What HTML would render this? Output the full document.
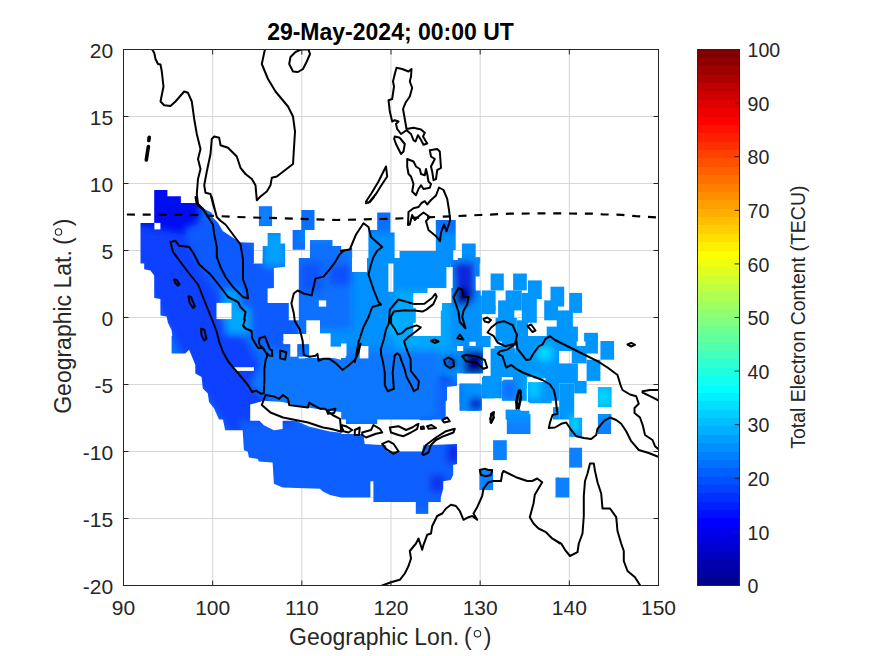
<!DOCTYPE html><html><head><meta charset="utf-8"><style>html,body{margin:0;padding:0;background:#fff;width:875px;height:656px;overflow:hidden;position:relative}</style></head><body><svg width="875" height="656" viewBox="0 0 875 656" style="position:absolute;left:0;top:0">
<defs><clipPath id="ax"><rect x="123.5" y="49.5" width="535.0" height="536.0"/></clipPath></defs>
<path d="M212.66666666666669 49.5V585.5M301.83333333333337 49.5V585.5M391.0 49.5V585.5M480.1666666666667 49.5V585.5M569.3333333333333 49.5V585.5M123.5 518.5H658.5M123.5 451.5H658.5M123.5 384.5H658.5M123.5 317.5H658.5M123.5 250.5H658.5M123.5 183.5H658.5M123.5 116.5H658.5" stroke="#d6d6d6" stroke-width="1" fill="none"/>
<defs><filter id="cb" x="-10%" y="-10%" width="120%" height="120%"><feGaussianBlur stdDeviation="3.5"/></filter><mask id="dm" maskUnits="userSpaceOnUse" x="0" y="0" width="875" height="656"><path d="M154.2 190.0 L167.4 190.0 L167.4 196.2 L180.9 196.2 L180.9 202.9 L197.8 202.9 L205.3 209.4 L211.5 212.4 L212.8 217.4 L217.8 222.4 L222.8 231.1 L232.7 237.4 L240.2 242.3 L253.9 242.8 L253.9 263.5 L140.5 263.5 L140.5 222.9 L154.2 222.9Z" fill="#fff"/><path d="M258.9 206.2 L272.1 206.2 L272.1 226.1 L258.9 226.1Z" fill="#fff"/><path d="M301.3 209.9 L314.5 209.9 L314.5 229.9 L305.0 229.9 L305.0 249.8 L292.6 249.8 L292.6 229.9 L301.3 229.9Z" fill="#fff"/><path d="M267.6 232.9 L280.6 232.9 L280.6 243.6 L285.1 243.6 L285.1 263.5 L262.7 263.5 L262.7 246.1 L267.6 246.1Z" fill="#fff"/><path d="M310.0 239.9 L332.5 239.9 L332.5 246.1 L341.2 246.1 L341.2 263.5 L310.0 263.5Z" fill="#fff"/><path d="M341.0 249.8 L352.2 249.8 L352.2 263.5 L341.0 263.5Z" fill="#fff"/><path d="M377.2 212.4 L390.4 212.4 L390.4 232.4 L394.6 232.4 L394.6 263.5 L368.4 263.5 L368.4 229.9 L377.2 229.9Z" fill="#fff"/><path d="M435.8 219.9 L455.7 219.9 L455.7 263.5 L399.6 263.5 L399.6 251.1 L435.8 251.1Z" fill="#fff"/><path d="M461.9 243.6 L475.7 243.6 L475.7 257.3 L480.2 257.3 L480.2 263.5 L461.9 263.5Z" fill="#fff"/><path d="M144.2 258.0 L252.7 258.0 L252.7 263.5 L262.7 263.5 L262.7 258.0 L285.1 258.0 L285.1 266.7 L273.9 268.0 L273.9 287.9 L267.6 288.4 L267.6 302.9 L288.8 302.9 L288.8 320.3 L298.8 320.3 L298.8 341.5 L172.9 341.5 L171.6 330.3 L167.9 322.8 L166.6 316.6 L160.4 315.4 L160.4 299.1 L154.2 297.9 L154.2 275.5 L150.4 270.5 L144.2 269.2Z" fill="#fff"/><path d="M298.8 258.0 L341.2 258.0 L341.2 341.5 L298.8 341.5Z" fill="#fff"/><path d="M341.0 258.0 L352.2 258.0 L352.2 264.2 L365.9 264.2 L365.9 258.0 L388.4 258.0 L388.4 291.7 L393.4 291.7 L393.4 258.0 L450.7 258.0 L450.7 292.9 L413.3 292.9 L413.3 341.5 L341.0 341.5Z" fill="#fff"/><path d="M408.3 307.9 L415.8 307.9 L415.8 322.8 L408.3 322.8Z" fill="#fff"/><path d="M450.7 258.0 L475.7 258.0 L475.7 290.4 L480.7 290.4 L480.7 341.5 L440.8 341.5 L440.8 310.4 L450.7 310.4Z" fill="#fff"/><path d="M490.6 273.5 L503.8 273.5 L503.8 290.4 L490.6 290.4Z" fill="#fff"/><path d="M513.1 273.5 L526.8 273.5 L526.8 290.4 L513.1 290.4Z" fill="#fff"/><path d="M528.0 280.4 L541.8 280.4 L541.8 299.1 L528.0 299.1Z" fill="#fff"/><path d="M481.9 290.4 L495.6 290.4 L495.6 310.4 L481.9 310.4Z" fill="#fff"/><path d="M505.6 290.4 L521.8 290.4 L521.8 310.4 L505.6 310.4Z" fill="#fff"/><path d="M521.8 292.9 L536.8 292.9 L536.8 322.8 L521.8 322.8Z" fill="#fff"/><path d="M550.5 286.7 L564.2 286.7 L564.2 306.6 L550.5 306.6Z" fill="#fff"/><path d="M544.2 300.4 L558.0 300.4 L558.0 320.3 L544.2 320.3Z" fill="#fff"/><path d="M569.2 292.9 L582.1 292.9 L582.1 312.9 L569.2 312.9Z" fill="#fff"/><path d="M556.7 310.4 L572.9 310.4 L572.9 327.8 L556.7 327.8Z" fill="#fff"/><path d="M498.1 300.4 L514.3 300.4 L514.3 319.1 L498.1 319.1Z" fill="#fff"/><path d="M481.9 305.4 L495.6 305.4 L495.6 314.1 L481.9 314.1Z" fill="#fff"/><path d="M495.6 317.9 L516.8 317.9 L516.8 341.5 L495.6 341.5Z" fill="#fff"/><path d="M516.8 320.3 L528.0 320.3 L528.0 341.5 L516.8 341.5Z" fill="#fff"/><path d="M546.7 326.6 L577.9 326.6 L577.9 341.5 L546.7 341.5Z" fill="#fff"/><path d="M584.1 332.8 L597.9 332.8 L597.9 341.5 L584.1 341.5Z" fill="#fff"/><path d="M442.0 295.4 L481.9 295.4 L481.9 341.5 L442.0 341.5Z" fill="#fff"/><path d="M171.6 336.0 L282.6 336.0 L282.6 342.2 L297.6 343.5 L298.8 358.4 L302.6 358.4 L312.5 357.2 L330.0 357.2 L341.2 359.7 L341.2 419.5 L219.0 419.5 L214.0 408.3 L209.0 402.1 L207.8 393.4 L202.8 388.4 L201.6 377.1 L195.3 373.4 L195.3 364.7 L189.1 349.7 L185.3 353.5 L171.6 353.5Z" fill="#fff"/><path d="M330.0 336.0 L341.2 336.0 L341.2 347.2 L330.0 347.2Z" fill="#fff"/><path d="M341.0 336.0 L455.7 336.0 L455.7 385.9 L445.7 387.1 L445.7 419.5 L341.0 419.5Z" fill="#fff"/><path d="M455.7 351.0 L480.7 351.0 L480.7 373.4 L455.7 373.4Z" fill="#fff"/><path d="M475.7 336.0 L490.6 336.0 L490.6 347.2 L475.7 347.2Z" fill="#fff"/><path d="M490.6 348.5 L515.6 348.5 L515.6 377.1 L490.6 377.1Z" fill="#fff"/><path d="M515.6 336.0 L559.2 336.0 L559.2 377.1 L515.6 377.1Z" fill="#fff"/><path d="M483.1 375.9 L501.8 375.9 L501.8 398.3 L483.1 398.3Z" fill="#fff"/><path d="M503.1 379.6 L515.6 379.6 L515.6 398.3 L503.1 398.3Z" fill="#fff"/><path d="M513.1 373.4 L526.8 373.4 L526.8 388.4 L513.1 388.4Z" fill="#fff"/><path d="M528.0 382.1 L544.2 382.1 L544.2 402.1 L528.0 402.1Z" fill="#fff"/><path d="M545.5 377.1 L559.2 377.1 L559.2 400.8 L545.5 400.8Z" fill="#fff"/><path d="M459.5 383.4 L480.7 383.4 L480.7 403.3 L459.5 403.3Z" fill="#fff"/><path d="M466.9 395.9 L479.4 395.9 L479.4 410.8 L466.9 410.8Z" fill="#fff"/><path d="M505.6 409.6 L520.6 409.6 L520.6 419.5 L505.6 419.5Z" fill="#fff"/><path d="M553.0 407.1 L559.2 407.1 L559.2 419.5 L553.0 419.5Z" fill="#fff"/><path d="M442.0 336.0 L457.0 336.0 L457.0 385.9 L442.0 385.9Z" fill="#fff"/><path d="M442.0 385.9 L447.0 385.9 L447.0 400.8 L442.0 400.8Z" fill="#fff"/><path d="M457.0 336.0 L469.4 336.0 L469.4 346.0 L457.0 346.0Z" fill="#fff"/><path d="M463.2 346.0 L483.1 346.0 L483.1 373.4 L463.2 373.4Z" fill="#fff"/><path d="M501.9 336.0 L530.5 336.0 L530.5 346.0 L501.9 346.0Z" fill="#fff"/><path d="M494.4 346.0 L514.3 346.0 L514.3 377.1 L494.4 377.1Z" fill="#fff"/><path d="M514.3 353.5 L531.8 353.5 L531.8 370.9 L514.3 370.9Z" fill="#fff"/><path d="M513.1 370.9 L526.8 370.9 L526.8 400.8 L513.1 400.8Z" fill="#fff"/><path d="M533.0 346.0 L551.7 346.0 L551.7 378.4 L533.0 378.4Z" fill="#fff"/><path d="M551.7 336.0 L576.7 336.0 L576.7 351.0 L551.7 351.0Z" fill="#fff"/><path d="M555.5 363.4 L577.9 363.4 L577.9 383.4 L555.5 383.4Z" fill="#fff"/><path d="M559.2 383.4 L574.2 383.4 L574.2 419.5 L559.2 419.5Z" fill="#fff"/><path d="M571.7 346.0 L586.6 346.0 L586.6 363.4 L571.7 363.4Z" fill="#fff"/><path d="M585.4 336.0 L597.9 336.0 L597.9 353.5 L585.4 353.5Z" fill="#fff"/><path d="M600.4 341.0 L614.1 341.0 L614.1 359.7 L600.4 359.7Z" fill="#fff"/><path d="M586.6 359.7 L600.4 359.7 L600.4 380.9 L586.6 380.9Z" fill="#fff"/><path d="M574.2 380.9 L586.6 380.9 L586.6 393.4 L574.2 393.4Z" fill="#fff"/><path d="M459.5 384.6 L481.9 384.6 L481.9 410.8 L459.5 410.8Z" fill="#fff"/><path d="M481.9 377.1 L494.4 377.1 L494.4 398.3 L481.9 398.3Z" fill="#fff"/><path d="M501.9 380.9 L514.3 380.9 L514.3 400.8 L501.9 400.8Z" fill="#fff"/><path d="M529.3 383.4 L541.8 383.4 L541.8 403.3 L529.3 403.3Z" fill="#fff"/><path d="M541.8 382.1 L551.7 382.1 L551.7 403.3 L541.8 403.3Z" fill="#fff"/><path d="M597.9 387.1 L611.6 387.1 L611.6 407.1 L597.9 407.1Z" fill="#fff"/><path d="M506.8 410.8 L529.3 410.8 L529.3 419.5 L506.8 419.5Z" fill="#fff"/><path d="M597.9 414.6 L611.6 414.6 L611.6 419.5 L597.9 419.5Z" fill="#fff"/><path d="M219.0 414.0 L252.7 414.0 L263.9 425.2 L273.9 430.2 L282.6 429.0 L282.6 414.0 L297.6 414.0 L297.6 421.5 L308.8 426.5 L330.0 431.5 L341.2 432.7 L341.2 497.5 L330.0 495.0 L322.5 491.3 L320.0 488.8 L282.6 487.6 L273.9 483.8 L272.6 462.6 L258.9 461.4 L257.7 458.9 L248.9 457.6 L247.7 451.4 L243.9 450.2 L242.7 430.2 L225.2 430.2 L222.8 419.0Z" fill="#fff"/><path d="M341.0 434.0 L363.4 434.0 L364.7 443.9 L385.9 445.2 L387.1 451.4 L422.0 451.4 L423.3 445.2 L457.0 443.9 L457.0 463.9 L453.2 465.1 L453.2 475.1 L450.7 480.1 L443.2 481.3 L443.2 488.8 L440.8 497.5 L341.0 497.5Z" fill="#fff"/><path d="M346.0 414.0 L377.2 414.0 L377.2 424.0 L346.0 424.0Z" fill="#fff"/><path d="M399.6 414.0 L413.3 414.0 L413.3 417.7 L399.6 417.7Z" fill="#fff"/><path d="M419.6 414.0 L432.0 414.0 L432.0 420.2 L419.6 420.2Z" fill="#fff"/><path d="M506.8 414.0 L530.5 414.0 L530.5 434.0 L506.8 434.0Z" fill="#fff"/><path d="M493.1 440.2 L506.8 440.2 L506.8 460.1 L493.1 460.1Z" fill="#fff"/><path d="M479.4 470.1 L493.1 470.1 L493.1 490.1 L479.4 490.1Z" fill="#fff"/><path d="M556.7 477.6 L559.2 477.6 L559.2 496.0 L556.7 496.0Z" fill="#fff"/><path d="M373.4 492.0 L440.8 492.0 L440.8 502.0 L373.4 502.0Z" fill="#fff"/><path d="M415.8 502.0 L428.3 502.0 L428.3 513.9 L415.8 513.9Z" fill="#fff"/><path d="M569.2 417.7 L582.1 417.7 L582.1 436.9 L569.2 436.9Z" fill="#fff"/><path d="M597.9 414.0 L611.1 414.0 L611.1 434.0 L597.9 434.0Z" fill="#fff"/><path d="M569.2 447.7 L582.1 447.7 L582.1 467.6 L569.2 467.6Z" fill="#fff"/><path d="M555.5 477.6 L569.2 477.6 L569.2 497.5 L555.5 497.5Z" fill="#fff"/><path d="M297.2 344.0 L309.8 344.0 L309.8 356.7 L297.2 356.7Z" fill="#fff"/><path d="M330.6 336.5 L344.4 336.5 L344.4 346.6 L330.6 346.6Z" fill="#fff"/><path d="M475.3 257.6 L479.7 257.6 L479.7 276.5 L475.3 276.5Z" fill="#fff"/><path d="M154.4 222.9 L160.4 222.9 L160.4 229.4 L154.4 229.4Z" fill="#000"/><path d="M216.5 302.9 L231.5 302.9 L231.5 319.1 L216.5 319.1Z" fill="#000"/><path d="M306.3 320.3 L320.0 320.3 L320.0 334.1 L306.3 334.1Z" fill="#000"/><path d="M318.8 300.4 L326.2 300.4 L326.2 306.6 L318.8 306.6Z" fill="#000"/><path d="M352.0 258.0 L367.0 258.0 L367.0 272.0 L352.0 272.0Z" fill="#000"/><path d="M234.0 367.2 L253.9 367.2 L253.9 370.9 L234.0 370.9Z" fill="#000"/><path d="M250.2 404.6 L263.9 400.8 L282.6 402.1 L297.6 405.8 L327.5 410.8 L341.2 412.1 L341.2 420.8 L250.2 420.8Z" fill="#000"/><path d="M341.0 343.5 L346.5 343.5 L346.5 356.0 L341.0 356.0Z" fill="#000"/><path d="M359.7 346.0 L368.4 346.0 L368.4 358.4 L359.7 358.4Z" fill="#000"/><path d="M370.4 481.3 L373.4 481.3 L373.4 497.5 L370.4 497.5Z" fill="#000"/><path d="M283.4 334.0 L309.2 334.0 L309.2 344.1 L283.4 344.1Z" fill="#000"/><path d="M309.2 333.4 L330.6 333.4 L330.6 358.0 L309.2 358.0Z" fill="#000"/><path d="M330.6 346.6 L345.7 346.6 L345.7 358.0 L330.6 358.0Z" fill="#000"/><path d="M290.3 344.0 L297.2 344.0 L297.2 356.7 L290.3 356.7Z" fill="#000"/><path d="M453.3 250.0 L457.7 250.0 L457.7 260.0 L453.3 260.0Z" fill="#000"/><path d="M446.4 267.0 L452.7 267.0 L452.7 288.0 L446.4 288.0Z" fill="#000"/><path d="M427.5 288.0 L451.4 288.0 L451.4 303.0 L427.5 303.0Z" fill="#000"/></mask></defs>
<g mask="url(#dm)" clip-path="url(#ax)"><rect x="123" y="180" width="536" height="340" fill="#0a6eff"/><g filter="url(#cb)">
<path d="M300 232 L480 232 L480 520 L470 520 L460 410 L380 405 L330 395 L300 300 Z" fill="#0090ff"/>
<path d="M480 232 L660 232 L660 520 L480 520 Z" fill="#0096ff"/>
<path d="M480 420 L660 420 L660 520 L480 520 Z" fill="#0a80ff"/>
<path d="M123 180 L200 180 L200 232 L175 240 L123 235 Z" fill="#0510f0"/>
<path d="M135 225 L185 235 L215 290 L245 340 L275 390 L310 430 L350 470 L360 500 L290 500 L250 460 L215 410 L185 360 L160 310 L135 260 Z" fill="#0840ff"/>
<path d="M185 230 L215 215 L260 250 L290 290 L300 340 L290 360 L240 330 L200 270 Z" fill="#0a5aff"/>
<path d="M240 420 L460 440 L460 510 L240 510 Z" fill="#075eff"/>
<path d="M270 350 L440 350 L445 415 L300 425 L250 385 Z" fill="#0a78ff"/>
<path d="M447 443 L460 443 L460 463 L447 463 Z" fill="#0a28e6"/>
<path d="M430 475 L445 475 L445 492 L430 492 Z" fill="#0a32f0"/>
<path d="M453 262 L475 262 L475 300 L456 305 Z" fill="#0a28dc"/>
<path d="M455 288 L470 288 L470 305 L455 305 Z" fill="#000096"/>
<path d="M464 351 L485 351 L485 374 L464 374 Z" fill="#00008c"/>
<path d="M440 375 L455 378 L455 400 L440 398 Z" fill="#0028dc"/>
<path d="M469 398 L483 398 L483 410 L469 410 Z" fill="#0014c8"/>
<path d="M436 380 L460 380 L460 440 L436 440 Z" fill="#0a64ff"/>
<path d="M223 290 L240 290 L240 320 L223 320 Z" fill="#00a0ff"/>
<path d="M226 308 L250 308 L250 334 L226 334 Z" fill="#00a8ff"/>
<path d="M538 347 L552 347 L552 360 L538 360 Z" fill="#00dcff"/>
<path d="M596 387 L612 387 L612 408 L596 408 Z" fill="#00d2ff"/>
<path d="M570 416 L580 416 L580 434 L570 434 Z" fill="#00d2ff"/>
<path d="M528 376 L540 376 L540 398 L528 398 Z" fill="#00c8ff"/>
<path d="M390 315 L410 315 L410 335 L390 335 Z" fill="#00c8ff"/>
<path d="M263 232 L286 232 L286 266 L263 266 Z" fill="#00a0ff"/>
<path d="M258 206 L272 206 L272 226 L258 226 Z" fill="#0a82ff"/>
<path d="M502 380 L516 380 L516 400 L502 400 Z" fill="#0a6eff"/>
<path d="M296 240 L352 240 L352 330 L296 330 Z" fill="#0a70ff"/>
<path d="M300 262 L322 262 L322 292 L300 292 Z" fill="#0a55ff"/>
<path d="M330 265 L352 265 L352 285 L330 285 Z" fill="#0a50ff"/>
<path d="M395 290 L450 290 L450 350 L395 350 Z" fill="#00a8ff"/>
<path d="M446 357 L456 357 L456 368 L446 368 Z" fill="#0000b4"/>
</g>
</g>
<g clip-path="url(#ax)"><path d="M151.8 49.0 L154.2 52.8 L155.5 59.0 L158.0 64.0 L160.5 64.5 L161.8 71.5 L163.5 86.5 L160.5 101.5 L164.2 105.2 L170.5 106.0 L175.5 101.5 L184.2 91.5 L188.0 92.8 L191.8 101.5 L194.2 119.0 L196.8 134.0 L200.5 149.0 L198.0 159.0 L200.5 169.0 L198.0 179.0 L196.8 194.0 L198.0 204.0 L203.0 209.0 L206.5 214.0 M265.0 49.0 L261.8 64.0 L268.0 79.0 L275.5 91.5 L288.0 106.5 L293.0 116.5 L295.0 131.5 L293.0 164.0 L276.8 176.5 L271.8 177.8 L270.5 185.2 L266.8 191.5 L260.5 196.5 L256.8 200.2 L255.5 185.2 L251.8 179.0 L245.5 174.0 L240.5 167.8 L236.8 156.5 L228.0 147.8 L220.5 145.2 L219.2 137.8 L214.2 136.5 L211.8 139.0 L210.5 154.0 L206.8 171.5 L204.2 185.2 L205.5 192.8 L210.5 194.0 L213.0 204.0 L216.0 214.0 M301.0 49.5 L295.5 52.0 L290.5 57.0 L289.2 64.0 L293.0 71.5 L298.0 72.0 L303.0 69.0 L306.8 61.5 L310.0 54.0 L308.5 49.5Z M396.5 67.8 L402.2 69.0 L408.5 71.5 L411.5 69.0 L411.0 76.5 L409.8 81.5 L412.2 87.8 L409.8 96.5 L405.5 102.8 L403.0 109.0 L404.8 119.0 L406.5 129.0 L413.5 127.8 L421.0 129.5 L424.8 132.8 L423.0 136.5 L427.2 143.5 L423.5 144.8 L420.5 139.0 L418.0 135.2 L415.5 141.5 L413.5 140.2 L411.0 134.0 L406.5 130.2 L401.0 134.0 L397.2 129.0 L396.0 124.0 L398.5 121.5 L394.8 120.2 L392.2 121.5 L389.8 111.5 L388.5 100.2 L392.2 99.0 L394.0 86.5 L393.0 81.5 L394.8 74.0Z M394.8 136.5 L399.8 137.8 L404.8 144.0 L403.5 151.5 L401.0 154.0 L398.5 149.0 L396.0 144.0 L394.2 139.0Z M386.0 166.5 L387.2 176.5 L382.2 184.0 L376.0 194.0 L368.5 202.8 L366.0 201.5 L371.0 194.0 L378.5 181.5 L382.2 174.0Z M407.2 159.0 L413.5 161.5 L416.0 166.5 L419.8 169.0 L421.0 174.0 L424.8 175.2 L426.0 169.0 L427.2 174.0 L428.5 181.5 L431.0 184.0 L429.8 187.8 L423.5 189.0 L421.0 185.2 L418.5 189.0 L416.0 195.2 L412.2 191.5 L413.5 184.0 L411.0 176.5 L408.5 174.0 L407.2 166.5Z M429.8 150.2 L437.2 149.0 L439.8 151.5 L441.0 167.8 L437.2 170.2 L436.0 179.0 L433.5 180.2 L432.2 171.5 L431.0 166.5 L434.8 159.0 L431.0 156.5Z M195.5 197.0 L196.8 204.5 L203.0 209.5 L208.0 217.0 L213.0 224.5 L214.2 234.5 L216.8 247.0 L216.8 257.0 L220.5 267.0 L225.5 277.0 L233.0 287.0 L243.0 297.0 L248.0 298.2 L246.8 289.5 L243.0 279.5 L243.0 259.5 L240.5 244.5 L233.0 234.5 L225.5 224.5 L220.5 220.8 L216.8 217.0 L214.2 207.0 L211.8 197.0 M228.0 361.0 L223.0 352.0 L219.2 342.0 L216.8 332.0 L213.0 322.0 L208.0 309.5 L203.0 297.0 L198.0 284.5 L188.0 272.0 L180.5 262.0 L173.0 252.0 L170.5 242.0 L175.5 240.8 L179.2 245.8 L189.2 247.0 L194.2 254.5 L199.2 264.5 L210.5 274.5 L220.5 287.0 L228.0 297.0 L238.0 302.0 L240.5 307.0 L245.5 312.0 L244.2 319.5 M341.0 250.8 L349.8 249.5 L356.0 234.5 L363.5 223.2 L368.5 227.0 L371.0 237.0 L382.2 247.0 L377.2 250.8 L373.5 257.0 L371.0 264.5 L368.5 274.5 L371.0 282.0 L373.5 289.5 L378.5 302.0 L381.0 304.5 L372.2 307.0 L368.5 317.0 L363.5 327.0 L358.5 342.0 L356.0 357.0 L354.8 362.0 M366.0 203.2 L369.8 202.0 L374.0 197.0 M408.0 225.0 L408.5 212.0 L413.5 208.2 L418.5 207.0 L421.5 203.0 L424.8 201.2 L427.2 204.5 L431.0 200.0 L436.0 195.5 L439.0 187.5 L443.5 190.0 L447.2 198.8 L449.0 210.0 L450.2 220.0 L446.5 231.2 L444.0 224.5 L441.0 232.5 L440.0 241.2 L436.0 236.2 L428.5 230.0 L426.0 221.2 L429.8 217.0 L423.5 212.5 L417.2 217.5 L414.8 220.0 L412.2 215.0 L409.8 224.5Z M453.5 297.0 L458.5 288.2 L462.2 289.5 L463.5 297.0 L468.5 297.0 L467.2 304.5 L463.5 310.8 L462.2 317.0 L465.5 328.2 L459.8 322.0 L458.5 312.0 L456.0 304.5Z M483.5 319.0 L487.2 317.5 L491.0 320.0 L488.5 322.5 L484.8 321.5Z M431.0 340.8 L434.8 339.5 L438.5 341.5 L434.8 343.0Z M457.2 338.2 L459.8 334.5 L463.5 339.5Z M627.5 344.5 L631.2 342.8 L635.0 344.8 L631.2 346.5Z M261.8 405.0 L265.5 395.0 L273.0 396.2 L279.2 398.8 L283.0 395.0 L288.0 398.8 L289.2 405.0 L298.0 406.2 L308.0 407.5 L309.2 402.5 L313.0 405.0 L320.5 408.8 L325.0 408.8 L332.5 415.0 L340.0 418.8 L341.2 431.2 M261.8 405.0 L270.5 412.5 L283.0 417.5 L295.5 420.0 L308.0 422.5 L323.0 427.5 L330.5 428.8 L341.8 431.8 M326.8 410.5 L335.5 408.8 L334.2 413.0 L328.0 413.8Z M360.5 343.8 L358.5 352.5 L354.8 360.0 L348.5 365.5 L342.5 370.0 M444.0 360.0 L448.5 357.5 L453.5 360.5 L454.0 366.2 L449.8 368.0 L445.5 365.0Z M462.2 356.2 L466.0 355.0 L476.0 356.2 L484.8 360.0 L487.2 367.5 L483.5 368.8 L476.0 362.5 L466.0 361.2Z M341.0 425.0 L346.0 426.2 L352.2 430.0 L348.5 432.5 L343.5 431.2Z M354.8 430.0 L359.8 427.5 L359.0 435.0 L354.8 435.0Z M362.2 432.5 L371.0 430.0 L373.5 425.0 L379.8 428.8 L382.2 432.5 L376.0 433.8 L366.0 437.5 L362.2 435.0Z M389.8 427.5 L398.5 426.2 L406.0 430.0 L412.2 427.5 L416.0 425.0 L418.5 423.8 L417.2 428.8 L411.0 432.5 L403.5 436.2 L398.5 435.0 L391.0 432.5Z M421.0 427.0 L423.5 426.5 L424.0 428.8 L421.0 429.0Z M427.2 426.2 L431.5 425.0 L436.0 428.0 L428.5 428.8Z M382.2 443.8 L388.5 441.2 L393.5 443.8 L398.5 451.2 L393.5 453.8 L386.0 448.8Z M422.2 453.8 L426.0 445.0 L436.0 437.5 L446.0 431.2 L454.8 428.8 L453.5 432.5 L443.5 436.2 L436.0 440.0 L431.0 445.0 L428.5 452.5 L423.5 455.0Z M442.2 420.0 L447.2 417.5 L449.8 421.2 L444.0 422.5Z M491.0 413.8 L494.0 412.0 L493.0 418.8 L490.5 422.5Z M518.5 390.5 L521.0 391.2 L519.8 402.5 L516.5 408.8 L516.0 401.2Z M479.8 470.0 L484.8 468.8 L488.5 470.0 L492.2 470.0 L491.0 475.0 L486.0 476.2 L481.0 475.0Z M487.5 332.5 L491.2 327.5 L497.5 322.5 L503.8 321.2 L512.5 325.0 L517.0 335.0 L515.0 343.8 L505.0 346.2 L497.5 342.5 L493.8 336.2Z M513.8 345.0 L507.5 349.5 L500.0 351.2 L497.5 353.8 L502.5 356.2 L504.5 362.5 L506.2 367.5 L511.2 365.0 L516.2 368.8 L523.8 373.0 L532.5 376.2 L542.5 380.0 L550.0 384.5 L553.8 390.0 L555.5 397.5 L556.5 406.2 L557.5 413.8 L552.5 415.0 L550.0 422.5 L548.8 428.0 L555.0 427.5 L561.2 423.8 L566.2 422.5 L571.2 430.0 L576.2 436.2 L583.8 438.0 L591.2 439.0 L596.2 435.0 L597.5 428.8 L603.8 421.2 L610.0 417.5 L616.2 420.0 L621.2 423.8 L626.2 431.2 L631.2 441.2 L638.8 450.0 L648.8 453.0 L658.8 457.0 M516.2 340.0 L517.5 348.8 L522.5 355.0 L526.2 360.0 L530.0 359.5 L533.8 353.0 L538.8 346.2 L542.5 344.5 L545.5 338.8 L550.0 336.2 L555.0 340.0 L565.0 345.0 L575.0 350.0 L585.0 355.0 L597.5 361.2 L607.5 367.5 L617.5 375.0 L620.5 385.0 L622.5 390.0 L630.0 394.5 L636.2 396.2 L638.8 403.8 L634.5 408.0 L634.5 413.0 L640.0 417.5 L643.0 426.2 L645.0 435.0 L652.5 440.0 L655.0 446.2 L658.8 449.5 M527.5 326.2 L531.2 324.5 L535.5 330.5 L532.5 332.0Z M518.0 395.0 L520.0 390.0 L521.2 397.5 L518.8 408.8 L517.0 405.0Z M490.0 418.8 L492.5 412.5 L494.0 417.5 L491.2 423.0Z M642.5 391.2 L650.0 390.0 L658.8 390.0 M642.5 392.5 L650.0 396.2 L658.8 400.5 M381.0 586.0 L391.0 582.2 L399.8 579.8 L404.8 573.5 L408.5 566.0 L411.0 558.5 L409.8 551.0 L416.0 543.5 L418.5 538.5 L422.2 549.8 L423.5 544.8 L427.2 534.8 L431.0 533.5 L432.2 526.0 L437.2 516.0 L442.2 513.5 L446.0 508.5 L451.0 504.8 L456.0 506.0 L459.8 511.0 L463.5 519.8 L468.5 517.2 L472.2 516.0 L477.2 519.8 L473.5 513.5 L477.2 507.2 L482.2 496.0 L483.5 488.5 L488.5 482.2 L493.5 481.0 L501.0 481.0 L502.2 473.5 L503.5 471.0 L508.5 473.5 L516.0 477.2 L527.2 481.0 L532.2 481.0 L537.2 478.5 L542.2 482.2 L538.5 488.5 L534.8 494.8 L533.5 503.5 L529.8 517.2 L533.5 523.5 L538.5 528.5 L546.0 532.2 L552.2 538.5 L559.8 543.5 M552.5 538.5 L561.2 543.5 L565.0 549.8 L570.0 556.0 L577.5 552.2 L578.8 543.5 L582.5 533.5 L583.8 516.0 L583.8 496.0 L585.0 481.0 L587.5 473.5 L590.0 463.5 L593.8 463.5 L595.0 471.0 L597.5 482.2 L601.2 493.5 L602.5 508.5 L610.0 508.5 L616.2 517.2 L617.5 531.0 L621.2 543.5 L623.8 551.0 L623.8 561.0 L627.5 571.0 L635.0 577.2 L641.2 587.2 M351.2 248.9 L343.3 250.9 L339.3 254.9 L335.3 261.8 L329.4 269.7 L323.5 276.6 L315.5 278.6 L311.6 295.4 L303.7 293.5 L297.7 290.5 L293.8 293.5 L291.4 303.4 L293.8 313.3 L294.8 321.2 L299.7 329.1 L302.7 341.0 L303.7 354.9 L309.6 356.8 L315.5 355.8 L317.5 353.9 L318.5 360.8 L323.5 358.8 L329.4 358.8 L335.3 362.8 L342.5 369.9 M174.2 279.5 L176.8 280.0 L179.5 284.5 L177.5 285.5 L175.0 282.5Z M188.5 296.2 L191.0 297.0 L194.8 306.2 L193.0 308.0 L189.5 302.5Z M201.0 328.8 L204.2 329.5 L206.5 338.8 L204.2 340.5 L201.5 335.0Z M244.9 320.0 L243.0 325.5 L245.5 328.5 L251.6 331.0 L252.2 338.3 L256.5 345.6 L258.3 348.0 L262.6 348.0 L265.6 352.3 L267.4 355.4 L265.6 360.2 L264.4 368.8 L264.4 381.0 L263.8 393.2 L261.3 393.8 L255.9 390.7 L252.2 392.0 L248.5 385.9 L243.7 379.8 L240.0 375.5 L232.7 367.0 L227.8 360.9 M259.5 338.3 L265.0 336.5 L268.0 344.4 L269.9 349.3 L272.0 350.2 L272.3 356.0 L269.3 355.6 L265.6 352.3 L263.8 348.7 L260.1 345.6 L258.9 342.6Z M280.2 350.5 L286.3 352.3 L285.1 359.6 L280.2 358.4Z M398.5 299.5 L414.5 304.1 L424.4 303.7 L432.3 297.7 L435.3 293.8 L436.7 296.7 L433.3 304.1 L426.4 309.6 L422.4 311.6 L414.5 310.6 L404.6 310.2 L393.7 311.6 L391.1 316.5 L391.1 323.5 L394.7 328.8 L397.7 334.4 L401.6 333.4 L406.6 328.8 L416.5 325.4 L420.8 327.4 L415.5 331.8 L408.6 336.7 L404.0 341.3 L406.6 349.2 L410.5 359.1 L410.9 371.0 L415.5 376.9 L418.9 381.3 L417.9 388.8 L413.9 391.2 L410.5 383.9 L406.6 376.9 L404.6 369.0 L401.6 361.1 L399.7 355.1 L397.3 353.2 L394.7 355.5 L393.7 363.1 L392.7 373.0 L393.9 388.8 L387.8 391.2 L384.8 385.2 L384.8 373.0 L383.2 363.1 L381.2 355.1 L380.8 349.2 L383.8 339.3 L386.0 329.4 L388.8 323.5 L389.8 309.6Z" fill="none" stroke="#000" stroke-width="2.0" stroke-linejoin="round" stroke-linecap="round"/></g>
<path d="M123.5 214.5 L195 215 L237 217 L337 220 L392 218.7 L454.7 216.2 L479.6 215 L509.6 213.7 L547 213.3 L593.5 213.7 L603 214.4 L622 214.8 L636 216.2 L658 217.6" fill="none" stroke="#000" stroke-width="2.2" stroke-dasharray="8 7.8" stroke-dashoffset="-3.4"/>
<path d="M149.2 137.3 L148.8 140.4" fill="none" stroke="#000" stroke-width="3.6" stroke-linecap="round"/>
<path d="M148.4 146.6 L147.5 152 L146.3 159.9" fill="none" stroke="#000" stroke-width="3.6" stroke-linecap="round"/>

<path d="M212.66666666666669 585.5v-5M212.66666666666669 49.5v5M301.83333333333337 585.5v-5M301.83333333333337 49.5v5M391.0 585.5v-5M391.0 49.5v5M480.1666666666667 585.5v-5M480.1666666666667 49.5v5M569.3333333333333 585.5v-5M569.3333333333333 49.5v5M123.5 518.5h5M658.5 518.5h-5M123.5 451.5h5M658.5 451.5h-5M123.5 384.5h5M658.5 384.5h-5M123.5 317.5h5M658.5 317.5h-5M123.5 250.5h5M658.5 250.5h-5M123.5 183.5h5M658.5 183.5h-5M123.5 116.5h5M658.5 116.5h-5" stroke="#262626" stroke-width="1" fill="none"/>
<rect x="123.5" y="49.5" width="535.0" height="536.0" fill="none" stroke="#262626" stroke-width="1"/>
<text x="123.5" y="615.3" font-size="21" text-anchor="middle" font-family="Liberation Sans, sans-serif" fill="#262626">90</text>
<text x="212.66666666666669" y="615.3" font-size="21" text-anchor="middle" font-family="Liberation Sans, sans-serif" fill="#262626">100</text>
<text x="301.83333333333337" y="615.3" font-size="21" text-anchor="middle" font-family="Liberation Sans, sans-serif" fill="#262626">110</text>
<text x="391.0" y="615.3" font-size="21" text-anchor="middle" font-family="Liberation Sans, sans-serif" fill="#262626">120</text>
<text x="480.1666666666667" y="615.3" font-size="21" text-anchor="middle" font-family="Liberation Sans, sans-serif" fill="#262626">130</text>
<text x="569.3333333333333" y="615.3" font-size="21" text-anchor="middle" font-family="Liberation Sans, sans-serif" fill="#262626">140</text>
<text x="658.5" y="615.3" font-size="21" text-anchor="middle" font-family="Liberation Sans, sans-serif" fill="#262626">150</text>
<text x="113.2" y="594.0" font-size="21" text-anchor="end" font-family="Liberation Sans, sans-serif" fill="#262626">-20</text>
<text x="113.2" y="527.0" font-size="21" text-anchor="end" font-family="Liberation Sans, sans-serif" fill="#262626">-15</text>
<text x="113.2" y="460.0" font-size="21" text-anchor="end" font-family="Liberation Sans, sans-serif" fill="#262626">-10</text>
<text x="113.2" y="393.0" font-size="21" text-anchor="end" font-family="Liberation Sans, sans-serif" fill="#262626">-5</text>
<text x="113.2" y="326.0" font-size="21" text-anchor="end" font-family="Liberation Sans, sans-serif" fill="#262626">0</text>
<text x="113.2" y="259.0" font-size="21" text-anchor="end" font-family="Liberation Sans, sans-serif" fill="#262626">5</text>
<text x="113.2" y="192.0" font-size="21" text-anchor="end" font-family="Liberation Sans, sans-serif" fill="#262626">10</text>
<text x="113.2" y="125.0" font-size="21" text-anchor="end" font-family="Liberation Sans, sans-serif" fill="#262626">15</text>
<text x="113.2" y="58.0" font-size="21" text-anchor="end" font-family="Liberation Sans, sans-serif" fill="#262626">20</text>
<text x="289" y="644.7" font-size="23" font-family="Liberation Sans, sans-serif" fill="#262626">Geographic Lon.</text>
<text x="464" y="644.7" font-size="23" font-family="Liberation Sans, sans-serif" fill="#262626">(</text>
<text x="491.5" y="644.7" font-size="23" text-anchor="end" font-family="Liberation Sans, sans-serif" fill="#262626">)</text>
<circle cx="477.5" cy="633.7" r="3.2" fill="none" stroke="#262626" stroke-width="1.1"/>
<text transform="translate(71 413.8) rotate(-90)" font-size="23" font-family="Liberation Sans, sans-serif" fill="#262626">Geographic Lat.</text>
<text transform="translate(71 245) rotate(-90)" font-size="23" font-family="Liberation Sans, sans-serif" fill="#262626">(</text>
<text transform="translate(71 218.5) rotate(-90)" font-size="23" text-anchor="end" font-family="Liberation Sans, sans-serif" fill="#262626">)</text>
<circle cx="58.5" cy="232" r="3.2" fill="none" stroke="#262626" stroke-width="1.1"/>
<text x="390.5" y="40.4" font-size="23" font-weight="bold" text-anchor="middle" font-family="Liberation Sans, sans-serif" fill="#000">29-May-2024; 00:00 UT</text>
<defs><linearGradient id="cbg" x1="0" y1="1" x2="0" y2="0"><stop offset="0.00000" stop-color="#00008f"/><stop offset="0.01562" stop-color="#00008f"/><stop offset="0.01562" stop-color="#00009f"/><stop offset="0.03125" stop-color="#00009f"/><stop offset="0.03125" stop-color="#0000af"/><stop offset="0.04688" stop-color="#0000af"/><stop offset="0.04688" stop-color="#0000bf"/><stop offset="0.06250" stop-color="#0000bf"/><stop offset="0.06250" stop-color="#0000cf"/><stop offset="0.07812" stop-color="#0000cf"/><stop offset="0.07812" stop-color="#0000df"/><stop offset="0.09375" stop-color="#0000df"/><stop offset="0.09375" stop-color="#0000ef"/><stop offset="0.10938" stop-color="#0000ef"/><stop offset="0.10938" stop-color="#0000ff"/><stop offset="0.12500" stop-color="#0000ff"/><stop offset="0.12500" stop-color="#0010ff"/><stop offset="0.14062" stop-color="#0010ff"/><stop offset="0.14062" stop-color="#0020ff"/><stop offset="0.15625" stop-color="#0020ff"/><stop offset="0.15625" stop-color="#0030ff"/><stop offset="0.17188" stop-color="#0030ff"/><stop offset="0.17188" stop-color="#0040ff"/><stop offset="0.18750" stop-color="#0040ff"/><stop offset="0.18750" stop-color="#0050ff"/><stop offset="0.20312" stop-color="#0050ff"/><stop offset="0.20312" stop-color="#0060ff"/><stop offset="0.21875" stop-color="#0060ff"/><stop offset="0.21875" stop-color="#0070ff"/><stop offset="0.23438" stop-color="#0070ff"/><stop offset="0.23438" stop-color="#0080ff"/><stop offset="0.25000" stop-color="#0080ff"/><stop offset="0.25000" stop-color="#008fff"/><stop offset="0.26562" stop-color="#008fff"/><stop offset="0.26562" stop-color="#009fff"/><stop offset="0.28125" stop-color="#009fff"/><stop offset="0.28125" stop-color="#00afff"/><stop offset="0.29688" stop-color="#00afff"/><stop offset="0.29688" stop-color="#00bfff"/><stop offset="0.31250" stop-color="#00bfff"/><stop offset="0.31250" stop-color="#00cfff"/><stop offset="0.32812" stop-color="#00cfff"/><stop offset="0.32812" stop-color="#00dfff"/><stop offset="0.34375" stop-color="#00dfff"/><stop offset="0.34375" stop-color="#00efff"/><stop offset="0.35938" stop-color="#00efff"/><stop offset="0.35938" stop-color="#00ffff"/><stop offset="0.37500" stop-color="#00ffff"/><stop offset="0.37500" stop-color="#10ffef"/><stop offset="0.39062" stop-color="#10ffef"/><stop offset="0.39062" stop-color="#20ffdf"/><stop offset="0.40625" stop-color="#20ffdf"/><stop offset="0.40625" stop-color="#30ffcf"/><stop offset="0.42188" stop-color="#30ffcf"/><stop offset="0.42188" stop-color="#40ffbf"/><stop offset="0.43750" stop-color="#40ffbf"/><stop offset="0.43750" stop-color="#50ffaf"/><stop offset="0.45312" stop-color="#50ffaf"/><stop offset="0.45312" stop-color="#60ff9f"/><stop offset="0.46875" stop-color="#60ff9f"/><stop offset="0.46875" stop-color="#70ff8f"/><stop offset="0.48438" stop-color="#70ff8f"/><stop offset="0.48438" stop-color="#80ff80"/><stop offset="0.50000" stop-color="#80ff80"/><stop offset="0.50000" stop-color="#8fff70"/><stop offset="0.51562" stop-color="#8fff70"/><stop offset="0.51562" stop-color="#9fff60"/><stop offset="0.53125" stop-color="#9fff60"/><stop offset="0.53125" stop-color="#afff50"/><stop offset="0.54688" stop-color="#afff50"/><stop offset="0.54688" stop-color="#bfff40"/><stop offset="0.56250" stop-color="#bfff40"/><stop offset="0.56250" stop-color="#cfff30"/><stop offset="0.57812" stop-color="#cfff30"/><stop offset="0.57812" stop-color="#dfff20"/><stop offset="0.59375" stop-color="#dfff20"/><stop offset="0.59375" stop-color="#efff10"/><stop offset="0.60938" stop-color="#efff10"/><stop offset="0.60938" stop-color="#ffff00"/><stop offset="0.62500" stop-color="#ffff00"/><stop offset="0.62500" stop-color="#ffef00"/><stop offset="0.64062" stop-color="#ffef00"/><stop offset="0.64062" stop-color="#ffdf00"/><stop offset="0.65625" stop-color="#ffdf00"/><stop offset="0.65625" stop-color="#ffcf00"/><stop offset="0.67188" stop-color="#ffcf00"/><stop offset="0.67188" stop-color="#ffbf00"/><stop offset="0.68750" stop-color="#ffbf00"/><stop offset="0.68750" stop-color="#ffaf00"/><stop offset="0.70312" stop-color="#ffaf00"/><stop offset="0.70312" stop-color="#ff9f00"/><stop offset="0.71875" stop-color="#ff9f00"/><stop offset="0.71875" stop-color="#ff8f00"/><stop offset="0.73438" stop-color="#ff8f00"/><stop offset="0.73438" stop-color="#ff8000"/><stop offset="0.75000" stop-color="#ff8000"/><stop offset="0.75000" stop-color="#ff7000"/><stop offset="0.76562" stop-color="#ff7000"/><stop offset="0.76562" stop-color="#ff6000"/><stop offset="0.78125" stop-color="#ff6000"/><stop offset="0.78125" stop-color="#ff5000"/><stop offset="0.79688" stop-color="#ff5000"/><stop offset="0.79688" stop-color="#ff4000"/><stop offset="0.81250" stop-color="#ff4000"/><stop offset="0.81250" stop-color="#ff3000"/><stop offset="0.82812" stop-color="#ff3000"/><stop offset="0.82812" stop-color="#ff2000"/><stop offset="0.84375" stop-color="#ff2000"/><stop offset="0.84375" stop-color="#ff1000"/><stop offset="0.85938" stop-color="#ff1000"/><stop offset="0.85938" stop-color="#ff0000"/><stop offset="0.87500" stop-color="#ff0000"/><stop offset="0.87500" stop-color="#ef0000"/><stop offset="0.89062" stop-color="#ef0000"/><stop offset="0.89062" stop-color="#df0000"/><stop offset="0.90625" stop-color="#df0000"/><stop offset="0.90625" stop-color="#cf0000"/><stop offset="0.92188" stop-color="#cf0000"/><stop offset="0.92188" stop-color="#bf0000"/><stop offset="0.93750" stop-color="#bf0000"/><stop offset="0.93750" stop-color="#af0000"/><stop offset="0.95312" stop-color="#af0000"/><stop offset="0.95312" stop-color="#9f0000"/><stop offset="0.96875" stop-color="#9f0000"/><stop offset="0.96875" stop-color="#8f0000"/><stop offset="0.98438" stop-color="#8f0000"/><stop offset="0.98438" stop-color="#800000"/><stop offset="1.00000" stop-color="#800000"/></linearGradient></defs>
<rect x="697.5" y="49.5" width="42.0" height="536.0" fill="url(#cbg)"/>
<path d="M739.5 531.90h-5M739.5 478.30h-5M739.5 424.70h-5M739.5 371.10h-5M739.5 317.50h-5M739.5 263.90h-5M739.5 210.30h-5M739.5 156.70h-5M739.5 103.10h-5" stroke="#262626" stroke-width="1" fill="none"/>
<rect x="697.5" y="49.5" width="42.0" height="536.0" fill="none" stroke="#262626" stroke-width="1"/>
<text x="747.5" y="593.20" font-size="19.6" font-family="Liberation Sans, sans-serif" fill="#262626">0</text>
<text x="747.5" y="539.60" font-size="19.6" font-family="Liberation Sans, sans-serif" fill="#262626">10</text>
<text x="747.5" y="486.00" font-size="19.6" font-family="Liberation Sans, sans-serif" fill="#262626">20</text>
<text x="747.5" y="432.40" font-size="19.6" font-family="Liberation Sans, sans-serif" fill="#262626">30</text>
<text x="747.5" y="378.80" font-size="19.6" font-family="Liberation Sans, sans-serif" fill="#262626">40</text>
<text x="747.5" y="325.20" font-size="19.6" font-family="Liberation Sans, sans-serif" fill="#262626">50</text>
<text x="747.5" y="271.60" font-size="19.6" font-family="Liberation Sans, sans-serif" fill="#262626">60</text>
<text x="747.5" y="218.00" font-size="19.6" font-family="Liberation Sans, sans-serif" fill="#262626">70</text>
<text x="747.5" y="164.40" font-size="19.6" font-family="Liberation Sans, sans-serif" fill="#262626">80</text>
<text x="747.5" y="110.80" font-size="19.6" font-family="Liberation Sans, sans-serif" fill="#262626">90</text>
<text x="747.5" y="57.20" font-size="19.6" font-family="Liberation Sans, sans-serif" fill="#262626">100</text>
<text transform="translate(805 317.2) rotate(-90)" font-size="19.5" text-anchor="middle" font-family="Liberation Sans, sans-serif" fill="#262626">Total Electron Content (TECU)</text>
</svg></body></html>
